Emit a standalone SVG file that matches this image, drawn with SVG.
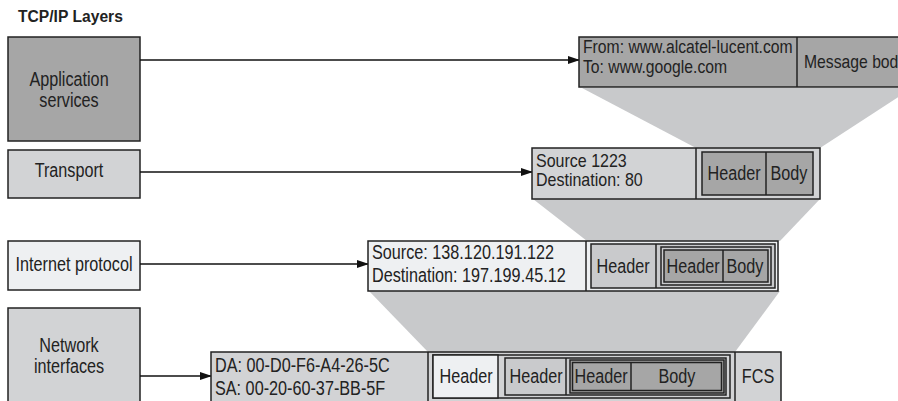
<svg xmlns="http://www.w3.org/2000/svg" width="898" height="401" viewBox="0 0 898 401">
<defs>
<marker id="ah" markerWidth="12" markerHeight="8" refX="11" refY="4" orient="auto" markerUnits="userSpaceOnUse">
<path d="M0,0 L12,4 L0,8 Z" fill="#111"/>
</marker>
<style>
text{font-family:"Liberation Sans",Arial,sans-serif;font-size:19.3px;fill:#222}
.t{font-weight:bold;font-size:17px}
.s{font-size:18.5px}
.m{font-size:18px}
.c{text-anchor:middle}
.b{stroke:#222;stroke-width:1.5}
.fun{fill:#c8c9cb}
.dk{fill:#a6a6a6}
.md{fill:#c9cacc}
.lt{fill:#eef0f2}
.lg{fill:#d2d3d5}
.ln{stroke:#111;stroke-width:1.6;fill:none}
</style>
</defs>
<rect width="898" height="401" fill="#fff"/>
<text class="t" transform="translate(18,22) scale(0.92,1)">TCP/IP Layers</text>
<g id="funnels">
<polygon class="fun" points="582,88 912,88 820,148 696,148"/>
<polygon class="fun" points="533,199 820,199 780,241 587,241"/>
<polygon class="fun" points="369,291 780,291 735,352 428,352"/>
</g>
<g id="layer-app">
<rect class="b dk" x="8" y="37" width="132" height="104"/>
<text class="c" transform="translate(69,86) scale(0.84,1)">Application</text>
<text class="c" transform="translate(69,107) scale(0.84,1)">services</text>
</g>
<g id="layer-transport">
<rect class="b lg" x="8" y="150" width="132" height="48"/>
<text class="c" transform="translate(69,177) scale(0.84,1)">Transport</text>
</g>
<g id="layer-ip">
<rect class="b lt" x="8" y="241" width="132" height="49"/>
<text class="c" transform="translate(74,271) scale(0.84,1)">Internet protocol</text>
</g>
<g id="layer-net">
<rect class="b lg" x="8" y="308" width="132" height="100"/>
<text class="c" transform="translate(69,352) scale(0.84,1)">Network</text>
<text class="c" transform="translate(69,373) scale(0.84,1)">interfaces</text>
</g>
<g id="connectors">
<line class="ln" x1="140" y1="60" x2="579" y2="60" marker-end="url(#ah)"/>
<line class="ln" x1="140" y1="172" x2="532" y2="172" marker-end="url(#ah)"/>
<line class="ln" x1="140" y1="264" x2="368" y2="264" marker-end="url(#ah)"/>
<line class="ln" x1="140" y1="376" x2="211" y2="376" marker-end="url(#ah)"/>
</g>
<g id="pdu-app">
<rect class="b dk" x="579" y="37" width="330" height="50"/>
<line class="b" x1="797" y1="37" x2="797" y2="87"/>
<text class="s" transform="translate(583,53) scale(0.85,1)">From: www.alcatel-lucent.com</text>
<text class="s" transform="translate(583,73) scale(0.85,1)">To: www.google.com</text>
<text class="s" transform="translate(804,68) scale(0.85,1)">Message body</text>
</g>
<g id="pdu-transport">
<rect class="b lg" x="532" y="148" width="288" height="51"/>
<line class="b" x1="696" y1="148" x2="696" y2="199"/>
<rect class="b dk" x="702" y="152" width="111" height="43"/>
<line class="b" x1="766" y1="152" x2="766" y2="195"/>
<text class="m" transform="translate(536,167) scale(0.89,1)">Source 1223</text>
<text class="m" transform="translate(536,186) scale(0.89,1)">Destination: 80</text>
<text class="c" transform="translate(734,180) scale(0.84,1)">Header</text>
<text class="c" transform="translate(789,180) scale(0.84,1)">Body</text>
</g>
<g id="pdu-ip">
<rect class="b lt" x="368" y="241" width="410" height="50"/>
<line class="b" x1="586" y1="241" x2="586" y2="291"/>
<rect class="b md" x="591" y="244" width="184" height="44"/>
<line class="b" x1="656" y1="244" x2="656" y2="288"/>
<rect class="b md" x="661" y="247" width="110" height="38"/>
<rect class="b dk" x="664" y="250" width="104" height="32"/>
<line class="b" x1="723" y1="250" x2="723" y2="282"/>
<text transform="translate(372,259) scale(0.84,1)">Source: 138.120.191.122</text>
<text transform="translate(372,282) scale(0.84,1)">Destination: 197.199.45.12</text>
<text class="c" transform="translate(623,273) scale(0.84,1)">Header</text>
<text class="c" transform="translate(693,273) scale(0.84,1)">Header</text>
<text class="c" transform="translate(745,273) scale(0.84,1)">Body</text>
</g>
<g id="pdu-net">
<rect class="b lg" x="211" y="352" width="570" height="60"/>
<line class="b" x1="428" y1="352" x2="428" y2="412"/>
<line class="b" x1="735" y1="352" x2="735" y2="412"/>
<rect class="b lg" x="433" y="355" width="297" height="43"/>
<rect class="b lt" x="433" y="355" width="65" height="43"/>
<rect class="b md" x="505" y="358" width="221" height="37"/>
<line class="b" x1="566" y1="358" x2="566" y2="395"/>
<rect class="b dk" x="570" y="360" width="154" height="33"/>
<rect class="b dk" x="572.5" y="362.5" width="149" height="28"/>
<line class="b" x1="631" y1="362" x2="631" y2="391"/>
<text transform="translate(215,372) scale(0.84,1)">DA: 00-D0-F6-A4-26-5C</text>
<text transform="translate(215,395) scale(0.84,1)">SA: 00-20-60-37-BB-5F</text>
<text class="c" transform="translate(466,383) scale(0.84,1)">Header</text>
<text class="c" transform="translate(536,383) scale(0.84,1)">Header</text>
<text class="c" transform="translate(601,383) scale(0.84,1)">Header</text>
<text class="c" transform="translate(677,383) scale(0.84,1)">Body</text>
<text class="c" transform="translate(758,383) scale(0.84,1)">FCS</text>
</g>
</svg>
